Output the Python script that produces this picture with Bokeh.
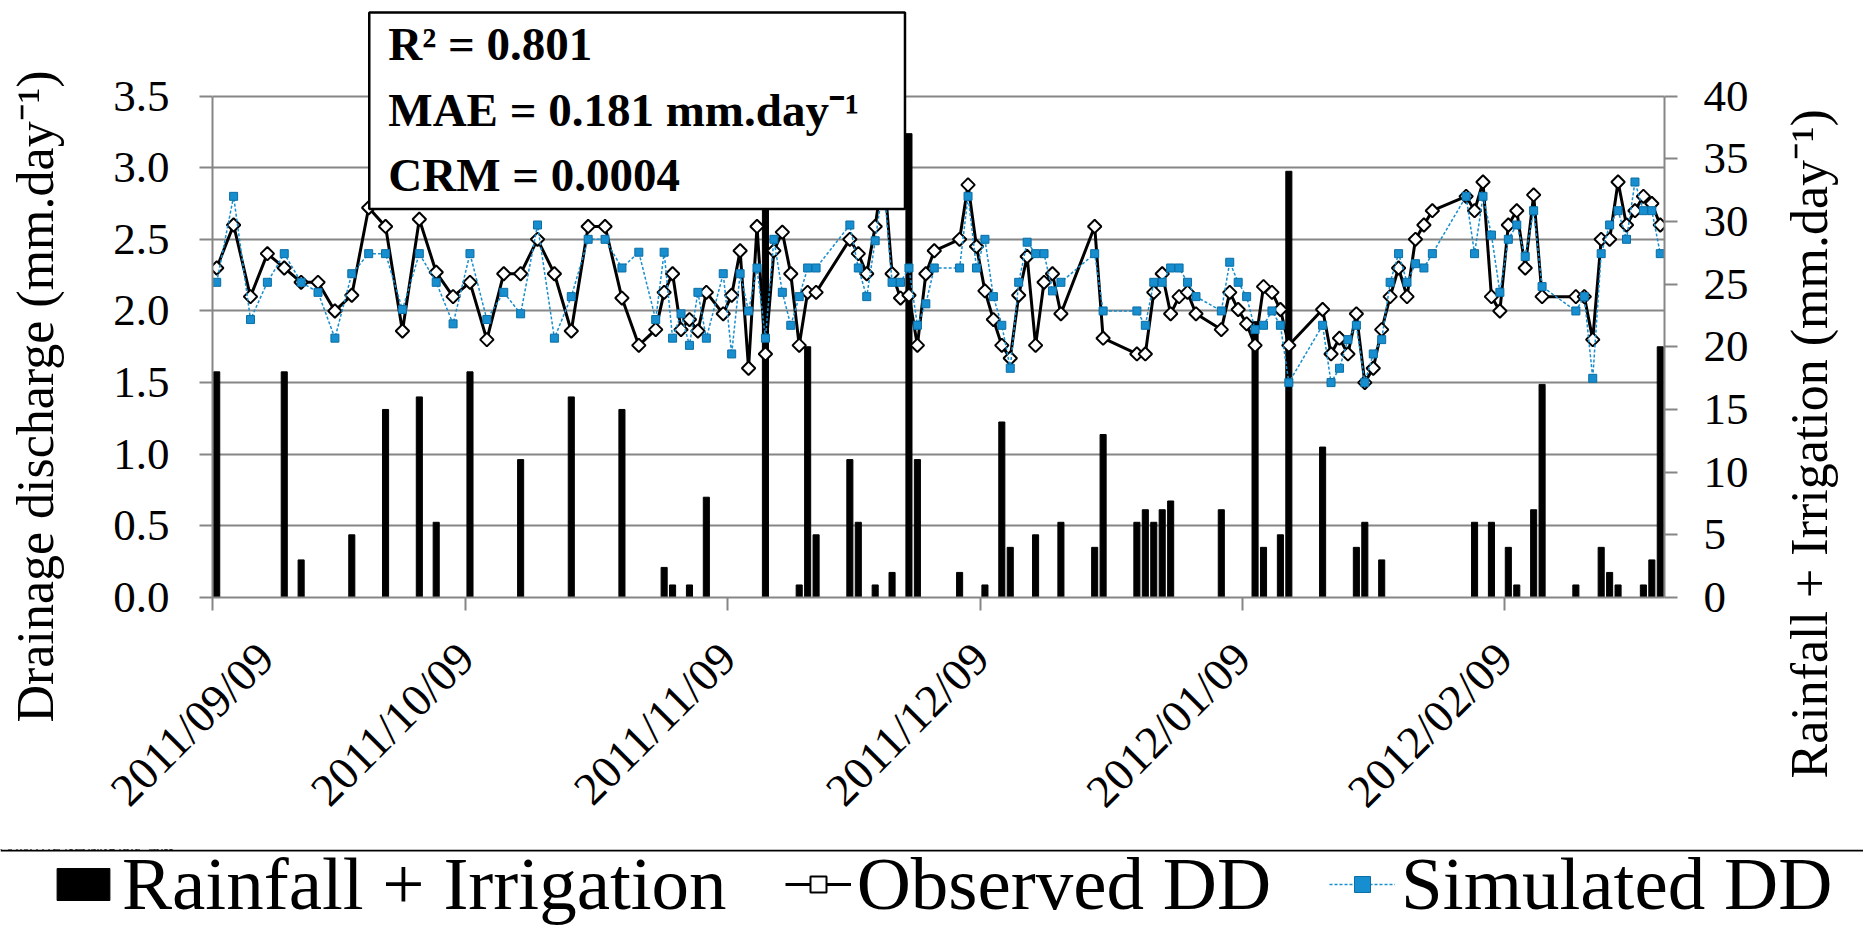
import math
from bokeh.plotting import figure
from bokeh.layouts import column, row
from bokeh.models import (Range1d, LinearAxis, FixedTicker, Label, Legend, LegendItem,
                          NumeralTickFormatter, Span)
from bokeh.embed import file_html
from bokeh.resources import INLINE

# ---------------- data ----------------
# day index counted from 2011/09/09 (day 0)
obs_days = [0, 2, 4, 6, 8, 10, 12, 14, 16, 18, 20, 22, 24, 26, 28,
            30, 32, 34, 36, 38, 40, 42, 44, 46, 48, 50, 52, 53, 54, 55, 56,
            57, 58, 60, 61, 62, 63, 64, 65, 66, 67, 68, 69, 70, 71,
            75, 76, 77, 78, 79, 80, 81, 82, 83, 84,
            85, 88, 89, 90, 91, 92, 93, 94, 95, 96, 97, 98, 99, 100,
            104, 105, 109, 110, 111, 112, 113,
            114, 115, 116, 119, 120, 121, 122, 123, 124, 125, 126, 127,
            131, 132, 133, 134, 135, 136, 137, 138, 139, 140, 141,
            142, 143, 144, 148, 149, 150, 151, 152, 153, 154, 155, 156, 157,
            161, 162, 163, 164, 165, 166, 167, 168, 169, 170, 171]
observed_dd = [2.30, 2.60, 2.10, 2.40, 2.30, 2.20, 2.20, 2.00, 2.11, 2.72, 2.59, 1.86, 2.64, 2.27, 2.10,
               2.20, 1.80, 2.26, 2.26, 2.50, 2.26, 1.86, 2.59, 2.59, 2.09, 1.76, 1.87, 2.13, 2.26, 1.87, 1.94,
               1.86, 2.13, 1.98, 2.11, 2.42, 1.60, 2.59, 1.70, 2.42, 2.55, 2.26, 1.76, 2.13, 2.13,
               2.50, 2.40, 2.26, 2.59, 3.00, 2.26, 2.09, 2.11, 1.76, 2.26,
               2.42, 2.50, 2.88, 2.45, 2.14, 1.94, 1.76, 1.67, 2.11, 2.38, 1.76, 2.20, 2.26, 1.98,
               2.59, 1.81, 1.70, 1.70, 2.13, 2.26, 1.98,
               2.10, 2.13, 1.98, 1.87, 2.13, 2.01, 1.91, 1.76, 2.17, 2.13, 2.01, 1.76,
               2.01, 1.70, 1.81, 1.70, 1.98, 1.50, 1.60, 1.87, 2.10, 2.30, 2.10,
               2.50, 2.60, 2.70, 2.80, 2.70, 2.90, 2.10, 2.00, 2.60, 2.70, 2.30, 2.81, 2.10,
               2.10, 2.10, 1.80, 2.50, 2.50, 2.90, 2.60, 2.70, 2.80, 2.75, 2.60]
simulated_dd = [2.20, 2.80, 1.94, 2.20, 2.40, 2.20, 2.13, 1.81, 2.26, 2.40, 2.40, 2.01, 2.40, 2.20, 1.91,
                2.40, 1.94, 2.13, 1.98, 2.60, 1.81, 2.10, 2.50, 2.50, 2.30, 2.41, 1.94, 2.41, 1.81, 1.98, 1.76,
                2.13, 1.81, 2.26, 1.70, 2.26, 2.00, 2.30, 1.81, 2.50, 2.13, 1.90, 2.10, 2.30, 2.30,
                2.60, 2.30, 2.10, 2.49, 2.90, 2.20, 2.20, 2.30, 1.90, 2.05,
                2.30, 2.30, 2.80, 2.30, 2.50, 2.10, 1.90, 1.60, 2.20, 2.48, 2.40, 2.40, 2.14, 2.20,
                2.40, 2.00, 2.00, 1.90, 2.20, 2.20, 2.30,
                2.30, 2.20, 2.10, 2.00, 2.34, 2.20, 2.10, 1.87, 1.90, 2.00, 1.90, 1.50,
                1.90, 1.50, 1.60, 1.80, 1.90, 1.50, 1.70, 1.80, 2.20, 2.40, 2.20,
                2.33, 2.30, 2.40, 2.80, 2.40, 2.80, 2.53, 2.13, 2.50, 2.60, 2.38, 2.70, 2.17,
                2.00, 2.10, 1.53, 2.40, 2.60, 2.70, 2.50, 2.90, 2.70, 2.70, 2.40]

rain_days = [0, 8, 10, 16, 20, 24, 26, 30, 36, 42, 48, 53, 54, 56, 58, 65, 69, 70, 71,
             75, 76, 78, 80, 82, 83, 88, 91, 93, 94, 97, 100, 104, 105, 109, 110, 111, 112, 113,
             119, 123, 124, 126, 127, 131, 135, 136, 138, 149, 151, 153, 154, 156, 157,
             161, 164, 165, 166, 169, 170, 171]
rain_irrigation = [18, 18, 3, 5, 15, 16, 6, 18, 11, 16, 15, 2.4, 1, 1, 8, 36, 1, 20, 5,
                   11, 6, 1, 2, 37, 11, 2, 1, 14, 4, 5, 6, 4, 13, 6, 7, 6, 7, 7.7,
                   7, 22, 4, 5, 34, 12, 4, 6, 3, 6, 6, 4, 1, 7, 17,
                   1, 4, 2, 1, 1, 3, 20]

tick_days = [0, 30, 61, 91, 122, 153]
tick_labels = ["2011/09/09", "2011/10/09", "2011/11/09", "2011/12/09", "2012/01/09", "2012/02/09"]
n_days = 172
left_ticks = [0.0, 0.5, 1.0, 1.5, 2.0, 2.5, 3.0, 3.5]
right_ticks = [0, 5, 10, 15, 20, 25, 30, 35, 40]
left_max, right_max = 3.5, 40.0
left_title = "Drainage discharge (mm.day\u207b\u00b9)"
right_title = "Rainfall + Irrigation (mm.day\u207b\u00b9)"

# ---------------- styling ----------------
FONT = "Liberation Serif"
GRAY = "#868686"
BLUE = "#168ECF"
BLUE_EDGE = "#0B6EA5"

PX_PER_UNIT = 501.7 / left_max
top_val = left_max + 85.6 / PX_PER_UNIT
rain_top = top_val * right_max / left_max

obs_x = [d + 0.5 for d in obs_days]
rain_x = [d + 0.5 for d in rain_days]

W_TOTAL = 1863
W_LT = 100
W_RT = 91
W_MAIN = W_TOTAL - W_LT - W_RT
H_MAIN = 849
H_LEG = 927 - H_MAIN

p = figure(width=W_MAIN, height=H_MAIN, x_range=Range1d(0, n_days), y_range=Range1d(0, top_val),
           output_backend="svg", toolbar_location=None,
           min_border_left=212 - W_LT, min_border_right=108, min_border_top=10, min_border_bottom=252)
p.frame_align = False
p.outline_line_color = None
p.background_fill_color = "white"
p.border_fill_color = "white"

def style_axis(ax, size="45px"):
    ax.major_label_text_font = FONT
    ax.major_label_text_font_size = size
    ax.major_label_text_color = "black"
    ax.major_tick_out = 13
    ax.major_tick_in = 0
    ax.minor_tick_line_color = None
    ax.axis_line_color = GRAY
    ax.axis_line_width = 2
    ax.major_tick_line_color = GRAY
    ax.major_tick_line_width = 2

# x axis
xax = p.xaxis[0]
style_axis(xax, "46px")
xax.ticker = FixedTicker(ticks=tick_days)
xax.major_label_overrides = {d: l for d, l in zip(tick_days, tick_labels)}
xax.major_label_orientation = math.pi / 4
xax.major_label_standoff = 40
p.xgrid.grid_line_color = None

# left axis (ticks only up to 3.5)
lax = p.yaxis[0]
style_axis(lax)
lax.ticker = FixedTicker(ticks=left_ticks)
lax.formatter = NumeralTickFormatter(format="0.0")
lax.bounds = (0, left_max)
lax.major_label_standoff = 30
p.ygrid.ticker = FixedTicker(ticks=left_ticks)
p.ygrid.grid_line_color = GRAY
p.ygrid.grid_line_width = 2

# right axis
p.extra_y_ranges = {"rain": Range1d(0, rain_top)}
rax = LinearAxis(y_range_name="rain", ticker=FixedTicker(ticks=right_ticks), bounds=(0, right_max))
style_axis(rax)
rax.major_label_standoff = 26
p.add_layout(rax, "right")

# series
bar_style = dict(fill_color="black", line_color="black")
obs_line_style = dict(line_color="black", line_width=3)
obs_pt_style = dict(marker="square", angle=math.pi / 4, size=9.5,
                    fill_color="white", line_color="black", line_width=2)
sim_line_style = dict(line_color=BLUE, line_width=1.5, line_dash="3 2")
sim_pt_style = dict(marker="square", size=8, fill_color=BLUE, line_color=BLUE_EDGE, line_width=1)

p.vbar(x=rain_x, top=rain_irrigation, width=0.72, y_range_name="rain", **bar_style)
p.line(obs_x, observed_dd, **obs_line_style)
p.scatter(obs_x, observed_dd, **obs_pt_style)
p.line(obs_x, simulated_dd, **sim_line_style)
p.scatter(obs_x, simulated_dd, **sim_pt_style)

# statistics box
stats = Label(x=18.57, y=left_max + 83.6 / PX_PER_UNIT, x_units="data", y_units="data",
              text="R\u00b2 = 0.801\nMAE = 0.181 mm.day\u207b\u00b9\nCRM = 0.0004",
              text_font=FONT, text_font_style="bold", text_font_size="47px",
              text_line_height=1.255, text_align="left", text_baseline="top",
              text_color="black",
              background_fill_color="white", border_line_color="black", border_line_width=2.5,
              padding=dict(left=19, right=46, top=6, bottom=8))
p.add_layout(stats)

# ---------------- title strips (vertical titles reading bottom to top) ----------------
def title_strip(width, text, x, y):
    s = figure(width=width, height=H_MAIN, x_range=Range1d(0, width), y_range=Range1d(0, H_MAIN),
               output_backend="svg", toolbar_location=None,
               x_axis_location=None, y_axis_location=None, min_border=0)
    s.frame_align = False
    s.outline_line_color = None
    s.grid.visible = False
    s.background_fill_color = "white"
    s.border_fill_color = "white"
    s.add_layout(Label(x=x, y=y, x_units="data", y_units="data", text=text, angle=math.pi / 2,
                       text_font=FONT, text_font_size="52px", text_color="black",
                       text_align="left", text_baseline="alphabetic"))
    return s

lt = title_strip(W_LT, left_title, 35, H_MAIN - 722)
rt = title_strip(W_RT, right_title, 37, H_MAIN - 778)

# ---------------- legend strip (separate figure below the chart) ----------------
q = figure(width=W_TOTAL, height=H_LEG, x_range=Range1d(0, W_TOTAL), y_range=Range1d(0, H_LEG),
           output_backend="svg", toolbar_location=None,
           x_axis_location=None, y_axis_location=None, min_border=0)
q.frame_align = False
q.outline_line_color = None
q.grid.visible = False
q.background_fill_color = "white"
q.border_fill_color = "white"
q.add_layout(Span(location=H_LEG - 1, dimension="width", line_color="black", line_width=2))

# the same series, mapped onto ranges that keep them outside this strip's view;
# they only supply the legend swatches
q.extra_y_ranges = {"dd_off": Range1d(-20, -10), "rain_off": Range1d(-200, -100)}
lg_bar = q.vbar(x=rain_x, top=rain_irrigation, width=1, y_range_name="rain_off", **bar_style)
lg_obs_l = q.line(obs_x, observed_dd, y_range_name="dd_off", **obs_line_style)
lg_obs_p = q.scatter(obs_x, observed_dd, y_range_name="dd_off", **obs_pt_style)
lg_sim_l = q.line(obs_x, simulated_dd, y_range_name="dd_off", **sim_line_style)
lg_sim_p = q.scatter(obs_x, simulated_dd, y_range_name="dd_off", **sim_pt_style)

legend = Legend(items=[LegendItem(label="Rainfall + Irrigation", renderers=[lg_bar]),
                       LegendItem(label="Observed DD", renderers=[lg_obs_l, lg_obs_p]),
                       LegendItem(label="Simulated DD", renderers=[lg_sim_l, lg_sim_p])],
                orientation="horizontal", location=(50, 0),
                label_text_font=FONT, label_text_font_size="75px", label_text_color="black",
                glyph_width=66, glyph_height=40, label_standoff=6, spacing=58,
                padding=0, margin=0, border_line_color=None, background_fill_alpha=0)
q.add_layout(legend)

layout = column(row(lt, p, rt, spacing=0), q, spacing=0)
open("out.html", "w").write(file_html(layout, INLINE))
